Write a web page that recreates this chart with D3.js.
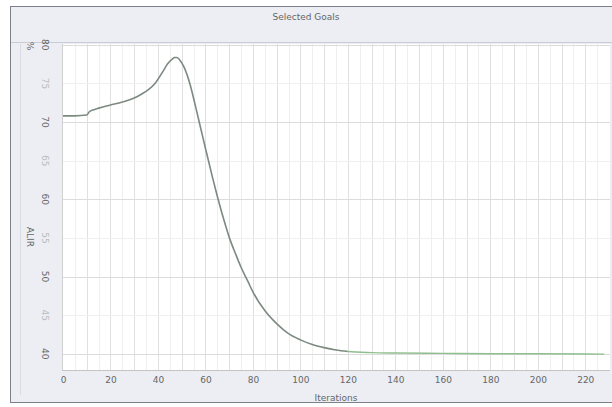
<!DOCTYPE html>
<html>
<head>
<meta charset="utf-8">
<script src="https://cdnjs.cloudflare.com/ajax/libs/d3/7.8.5/d3.min.js"></script>
<style>
  body { margin: 0; background: #fff; }
  text { font-family: "DejaVu Sans", sans-serif; }
</style>
</head>
<body>
<div id="chart"></div>
<script>
// data
var iterations = [0, 5, 10, 11, 13, 15, 20, 25, 30, 33, 36, 39, 42, 44, 46, 47, 48, 49, 51, 53.5, 56, 58, 60, 63, 65, 68, 70, 73, 75, 78, 80, 85, 90, 95, 100, 105, 110, 115, 120, 130, 140, 160, 180, 200, 228];
var goalValues = [70.8, 70.8, 70.9, 71.3, 71.6, 71.8, 72.2, 72.6, 73.1, 73.6, 74.2, 75.1, 76.5, 77.5, 78.15, 78.35, 78.35, 78.1, 77.1, 74.9, 71.8, 69.2, 66.6, 62.8, 60.4, 57.1, 55.1, 52.7, 51.2, 49.3, 48.0, 45.6, 43.9, 42.6, 41.8, 41.2, 40.8, 40.5, 40.3, 40.15, 40.1, 40.05, 40.0, 40.0, 39.95];
var xTicks = [0, 20, 40, 60, 80, 100, 120, 140, 160, 180, 200, 220];
var yTicksMajor = [40, 50, 60, 70, 80];
var yTicksMinor = [45, 55, 65, 75];

function init() {
    var w = 612;
    var h = 407;

    var svg = d3.select("#chart")
                .append("svg")
                .attr("width", w)
                .attr("height", h);

    // outer panel
    svg.append("rect")
       .attr("x", 10.5).attr("y", 6.5)
       .attr("width", 610).attr("height", 396)
       .attr("fill", "#eceef4")
       .attr("stroke", "#7d8088");

    svg.append("line")
       .attr("x1", 20.5).attr("x2", 20.5)
       .attr("y1", 44).attr("y2", 395)
       .attr("stroke", "#d8dbe2");

    svg.append("line")
       .attr("x1", 11).attr("x2", 612)
       .attr("y1", 42.5).attr("y2", 42.5)
       .attr("stroke", "#c8ccd6");

    svg.append("text")
       .attr("x", 306).attr("y", 20)
       .attr("text-anchor", "middle")
       .attr("font-size", 9)
       .attr("fill", "#666")
       .text("Selected Goals");

    var left = 62, right = 610, top = 44, bottom = 370;

    var xScale = d3.scaleLinear()
                   .domain([0, 230])
                   .range([63, 609]);

    var yScale = d3.scaleLinear()
                   .domain([37.9, 80.1])
                   .range([bottom, top]);

    svg.append("rect")
       .attr("x", left).attr("y", top)
       .attr("width", right - left).attr("height", bottom - top)
       .attr("fill", "#fff");

    // vertical grid
    svg.append("g")
       .selectAll("line")
       .data(d3.range(5, 230, 5))
       .enter()
       .append("line")
       .attr("x1", function(d) { return Math.round(xScale(d)) + 0.5; })
       .attr("x2", function(d) { return Math.round(xScale(d)) + 0.5; })
       .attr("y1", top)
       .attr("y2", bottom)
       .attr("stroke", function(d) { return d % 10 === 0 ? "#e0e0e0" : "#efefef"; });

    // horizontal grid
    svg.append("g")
       .selectAll("line")
       .data(yTicksMajor.concat(yTicksMinor))
       .enter()
       .append("line")
       .attr("x1", left)
       .attr("x2", right)
       .attr("y1", function(d) { return Math.round(yScale(d)) + 0.5; })
       .attr("y2", function(d) { return Math.round(yScale(d)) + 0.5; })
       .attr("stroke", function(d) { return d % 10 === 0 ? "#dcdcdc" : "#f0f0f0"; });

    svg.append("line")
       .attr("x1", left).attr("x2", right)
       .attr("y1", bottom + 0.5).attr("y2", bottom + 0.5)
       .attr("stroke", "#c4c4c4");

    svg.append("line")
       .attr("x1", left + 0.5).attr("x2", left + 0.5)
       .attr("y1", top).attr("y2", bottom)
       .attr("stroke", "#d0d0d0");

    // x axis
    var xAxis = d3.axisBottom(xScale).tickValues(xTicks).tickSize(0).tickPadding(7);
    var gx = svg.append("g")
       .attr("transform", "translate(0," + bottom + ")")
       .call(xAxis);
    gx.select(".domain").remove();
    gx.selectAll("text").attr("font-size", 9).attr("fill", "#666").attr("font-family", "DejaVu Sans, sans-serif");

    svg.append("text")
       .attr("x", 336).attr("y", 401)
       .attr("text-anchor", "middle")
       .attr("font-size", 9)
       .attr("fill", "#666")
       .text("Iterations");

    // y axis labels (rotated)
    svg.append("g")
       .selectAll("text")
       .data(yTicksMajor.concat(yTicksMinor))
       .enter()
       .append("text")
       .attr("transform", function(d) {
           return "translate(45," + yScale(d) + ") rotate(90)";
       })
       .attr("text-anchor", "middle")
       .attr("dy", "0.35em")
       .attr("font-size", 9)
       .attr("fill", function(d) { return d % 10 === 0 ? "#666" : "#bbb"; })
       .text(function(d) { return d; });

    svg.append("text")
       .attr("transform", "translate(27,237) rotate(90)")
       .attr("text-anchor", "middle")
       .attr("font-size", 9)
       .attr("fill", "#666")
       .text("ALIR");

    svg.append("text")
       .attr("transform", "translate(27,46) rotate(90)")
       .attr("text-anchor", "middle")
       .attr("font-size", 9)
       .attr("fill", "#666")
       .text("%");

    // goal line
    var data = iterations.map(function(d, i) { return [d, goalValues[i]]; });

    var line = d3.line()
                 .x(function(d) { return xScale(d[0]); })
                 .y(function(d) { return yScale(d[1]); })
                 .curve(d3.curveMonotoneX);

    svg.append("path")
       .datum(data.filter(function(d) { return d[0] <= 120; }))
       .attr("d", line)
       .attr("fill", "none")
       .attr("stroke", "#7d8a80")
       .attr("stroke-width", 1.6);

    svg.append("path")
       .datum(data.filter(function(d) { return d[0] >= 120; }))
       .attr("d", line)
       .attr("fill", "none")
       .attr("stroke", "#8fbf8f")
       .attr("stroke-width", 1.4);
}

window.onload = init;
</script>
</body>
</html>
